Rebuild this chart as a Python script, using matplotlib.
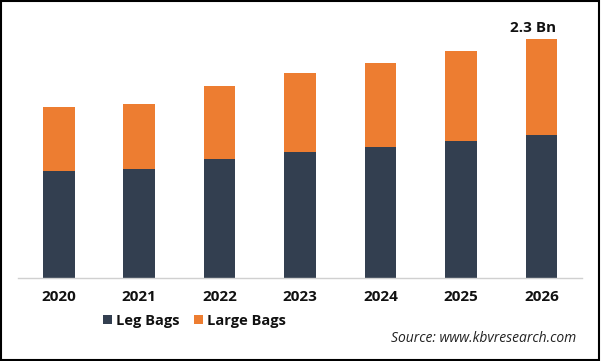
import matplotlib.pyplot as plt
from matplotlib.patches import Rectangle

# chart data (USD Bn)
years = ['2020', '2021', '2022', '2023', '2024', '2025', '2026']
leg_bags = [1.028, 1.047, 1.143, 1.211, 1.262, 1.317, 1.378]
large_bags = [0.617, 0.626, 0.704, 0.764, 0.809, 0.867, 0.922]
top_label = '2.3 Bn'

DARK = '#333f50'
ORANGE = '#ed7d31'

plt.rcParams['font.family'] = ['Open Sans', 'DejaVu Sans']

fig = plt.figure(figsize=(6.01, 3.61), dpi=100)
ax = fig.add_axes([0.0306, 0.2307, 0.9374, 0.7139])

x = range(len(years))
ax.bar(x, leg_bags, width=0.395, color=DARK, label='Leg Bags')
ax.bar(x, large_bags, width=0.395, bottom=leg_bags, color=ORANGE,
       label='Large Bags')

ax.set_xlim(-0.5, 6.5)
ax.set_ylim(0, 2.483)

# value label on the last bar
total_last = leg_bags[-1] + large_bags[-1]
ax.text(len(years) - 1.11, total_last + 0.04, top_label, ha='center',
        va='bottom', fontsize=11, fontweight='bold', color='#111111')

# axes look
for side in ['top', 'right', 'left']:
    ax.spines[side].set_visible(False)
ax.spines['bottom'].set_color('#d0d0d0')
ax.spines['bottom'].set_linewidth(1.0)
ax.set_yticks([])
ax.set_xticks(list(x))
ax.set_xticklabels(years, fontsize=11, fontweight='bold', color='#111111')
ax.tick_params(axis='x', length=0, pad=9)

fig.legend(loc='center', bbox_to_anchor=(0.324, 0.111), ncol=2, frameon=False,
           prop={'size': 10.5, 'weight': 'bold'}, handlelength=0.6,
           handleheight=0.6, handletextpad=0.3, columnspacing=1.0)
for t in fig.legends[0].get_texts():
    t.set_color('#111111')

fig.text(0.958, 0.061, 'Source: www.kbvresearch.com', ha='right', va='center',
         fontsize=10, style='italic', color='#222222')

# thin frame around the picture
fig.patches.append(Rectangle((0.002, 0.002), 0.995, 0.994, transform=fig.transFigure,
                             fill=False, edgecolor='black', linewidth=1.5))

fig.savefig('out.png', dpi=100)
